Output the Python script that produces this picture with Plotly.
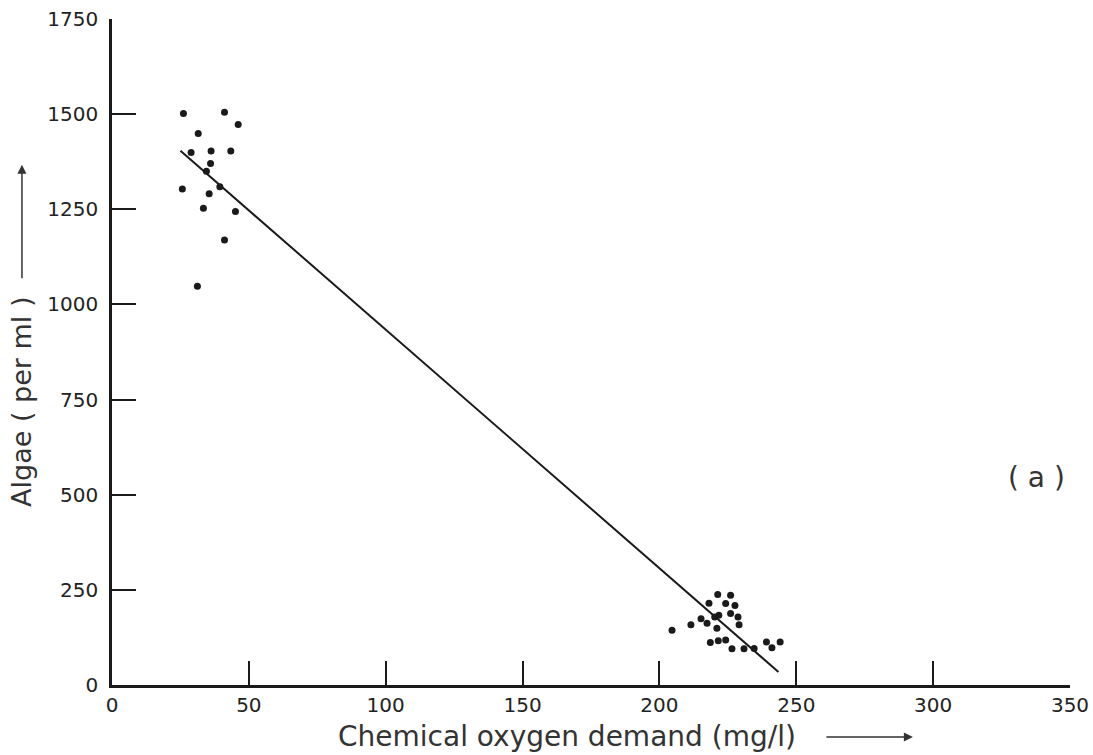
import plotly.graph_objects as go

# Data
cod_low = [26.1, 41.1, 46.1, 31.5, 28.9, 36.2, 43.4, 36.0, 34.5, 25.7, 39.4, 35.5, 33.4, 45.1, 41.1, 31.2]
algae_low = [1502, 1505, 1473, 1449, 1399, 1403, 1403, 1370, 1350, 1303, 1309, 1291, 1253, 1244, 1169, 1048]

cod_high = [221.3, 226.0, 218.1, 224.2, 227.6, 226.0, 228.7, 221.7, 220.2, 215.2, 217.4, 211.5, 204.6,
            221.0, 229.1, 218.6, 221.5, 224.2, 226.5, 230.9, 234.6, 239.1, 241.1, 244.1]
algae_high = [238, 236, 215, 214, 209, 188, 179, 183, 179, 174, 162, 158, 144,
              149, 158, 112, 116, 118, 95, 95, 96, 113, 98, 113]

fit_x = [25.0, 243.5]
fit_y = [1404, 34]

x_ticks = [0, 50, 100, 150, 200, 250, 300, 350]
y_ticks = [0, 250, 500, 750, 1000, 1250, 1500, 1750]

ink = "#1a1a1a"
tick_font = dict(family="DejaVu Sans, Liberation Sans, sans-serif", size=20, color="#222")
title_font = dict(family="DejaVu Sans, Liberation Sans, sans-serif", size=28, color="#333")
ytitle_font = dict(family="DejaVu Sans, Liberation Sans, sans-serif", size=27, color="#333")

fig = go.Figure()
fig.add_trace(go.Scatter(x=fit_x, y=fit_y, mode="lines",
                         line=dict(color=ink, width=2), showlegend=False, hoverinfo="skip"))
fig.add_trace(go.Scatter(x=cod_low + cod_high, y=algae_low + algae_high, mode="markers",
                         marker=dict(color=ink, size=7), showlegend=False))

fig.update_layout(
    width=1093, height=755,
    margin=dict(l=112, r=23, t=19, b=70, autoexpand=False),
    paper_bgcolor="white", plot_bgcolor="white",
    xaxis=dict(range=[0, 350], tickvals=x_ticks, ticktext=[str(v) for v in x_ticks],
               ticks="inside", ticklen=24, tickwidth=2, tickcolor=ink,
               showline=True, linecolor=ink, linewidth=2.5, showgrid=False, zeroline=False,
               tickfont=tick_font, ticklabelstandoff=0, automargin=False),
    yaxis=dict(range=[0, 1750], tickvals=y_ticks, ticktext=[str(v) for v in y_ticks],
               ticks="inside", ticklen=24, tickwidth=2, tickcolor=ink,
               showline=True, linecolor=ink, linewidth=2.5, showgrid=False, zeroline=False,
               tickfont=tick_font, ticklabelstandoff=7, automargin=False),
)

annotations = [
    dict(text="Chemical oxygen demand (mg/l)", xref="paper", yref="paper", x=0.475, y=-0.078,
         showarrow=False, font=title_font, xanchor="center", yanchor="middle"),
    dict(text="", xref="paper", yref="paper", x=0.836, y=-0.078, ax=-88, ay=0,
         showarrow=True, arrowhead=2, arrowsize=1.2, arrowwidth=1.5, arrowcolor="#333"),
    dict(text="Algae ( per ml )", xref="paper", yref="paper", x=-0.094, y=0.425,
         showarrow=False, font=ytitle_font, textangle=-90, xanchor="center", yanchor="middle"),
    dict(text="", xref="paper", yref="paper", x=-0.094, y=0.781, ax=0, ay=115,
         showarrow=True, arrowhead=2, arrowsize=1.2, arrowwidth=1.5, arrowcolor="#333"),
    dict(text="( a )", xref="paper", yref="paper", x=0.965, y=0.311, showarrow=False,
         font=dict(family="DejaVu Sans, sans-serif", size=28, color="#333"),
         xanchor="center", yanchor="middle"),
]
fig.update_layout(annotations=annotations)

fig.write_html("out.html")
